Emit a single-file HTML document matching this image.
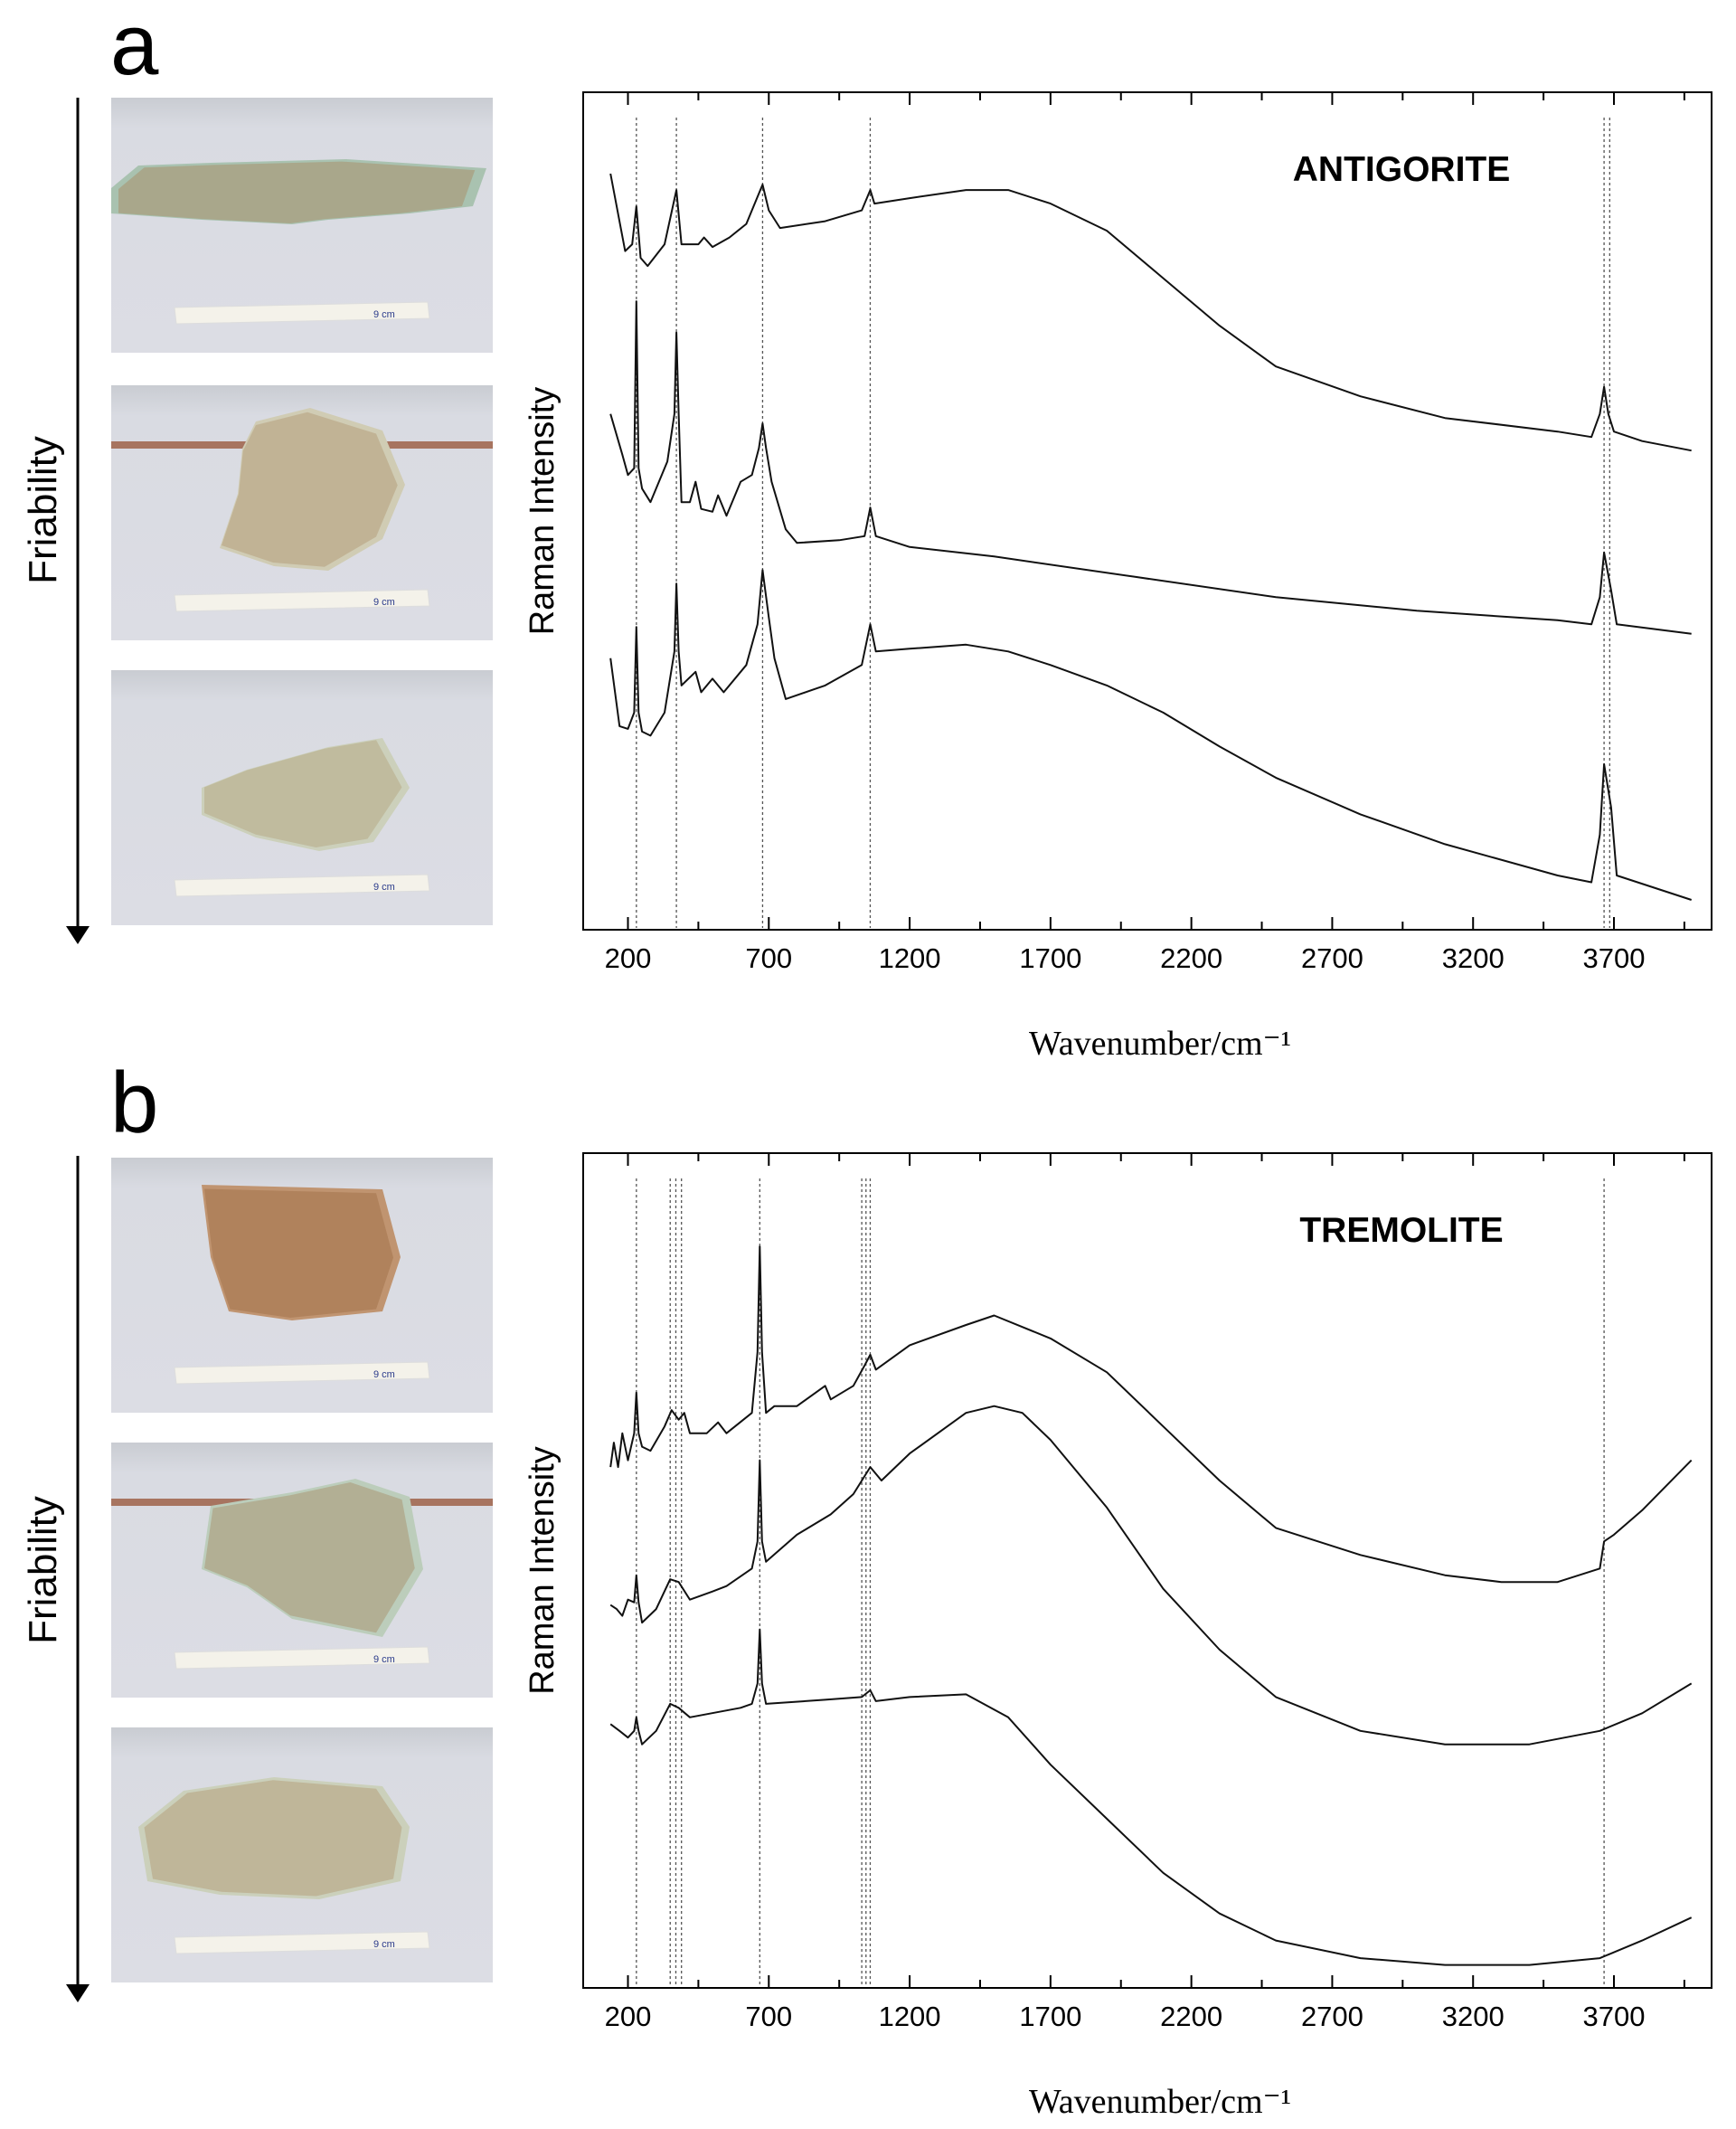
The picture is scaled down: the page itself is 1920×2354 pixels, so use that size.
<!DOCTYPE html>
<html><head><meta charset="utf-8"><style>
html,body{margin:0;padding:0;background:#fff;}
body{width:1920px;height:2354px;position:relative;overflow:hidden;font-family:"Liberation Sans",Arial,sans-serif;}
</style></head><body>
<svg id="fig" width="1920" height="2354" viewBox="0 0 1920 2354" xmlns="http://www.w3.org/2000/svg" style="position:absolute;left:0;top:0">
<defs>
<linearGradient id="bg" x1="0" y1="0" x2="0" y2="1"><stop offset="0" stop-color="#c9ccd2"/><stop offset="0.12" stop-color="#d9dbe2"/><stop offset="1" stop-color="#dcdde4"/></linearGradient>
</defs>
<text x="122" y="82" font-size="96" font-family="Liberation Sans, sans-serif">a</text>
<text x="122" y="1252" font-size="96" font-family="Liberation Sans, sans-serif">b</text>
<g><line x1="86" y1="108" x2="86" y2="1028" stroke="#000" stroke-width="3"/><polygon points="73,1024 99,1024 86,1044" fill="#000"/></g>
<g><line x1="86" y1="1278" x2="86" y2="2198" stroke="#000" stroke-width="3"/><polygon points="73,2194 99,2194 86,2214" fill="#000"/></g>
<text transform="translate(62,564) rotate(-90)" text-anchor="middle" font-size="44">Friability</text>
<text transform="translate(62,1736) rotate(-90)" text-anchor="middle" font-size="44">Friability</text>
<g id="photos"></g>
<g id="chartA"></g>
<g id="chartB"></g>
</svg>
<script>
// ---- chart data (wavenumber / relative intensity) ----
const ticksX = [200,700,1200,1700,2200,2700,3200,3700];
const antTopX = [138,190,215,230,245,270,330,372,390,450,470,500,560,620,660,678,700,740,900,1030,1060,1075,1200,1400,1550,1700,1900,2100,2300,2500,2800,3100,3500,3620,3650,3665,3680,3700,3800,3975];
const antTopY = [557,500,505,533,495,489,505,545,505,505,510,503,510,520,540,549,530,517,522,530,545,535,539,545,545,535,515,480,445,415,393,377,367,363,380,400,380,367,360,353];
const antMidX = [138,180,200,222,230,238,250,280,340,365,372,380,390,420,440,460,500,520,550,600,640,665,678,690,710,760,800,950,1040,1060,1080,1200,1500,2000,2500,3000,3500,3620,3650,3665,3690,3710,3975];
const antMidY = [380,350,335,340,463,340,325,315,345,380,440,380,315,315,330,310,308,320,305,330,335,355,373,355,330,295,285,287,290,311,290,282,275,260,245,235,228,225,245,278,250,225,218];
const antBotX = [138,170,200,222,230,238,250,280,330,365,372,380,390,440,460,500,540,620,660,678,700,720,760,900,1030,1060,1080,1200,1400,1550,1700,1900,2100,2300,2500,2800,3100,3500,3620,3650,3665,3690,3710,3975];
const antBotY = [200,150,148,160,223,160,146,143,160,205,255,205,180,190,175,185,175,195,225,265,230,200,170,180,195,225,205,207,210,205,195,180,160,135,112,85,63,40,35,70,122,90,40,22];
const antLines = [230,372,678,1060,3665,3685];
const tremTopX = [138,150,165,180,200,222,230,238,250,280,330,355,380,400,420,480,520,550,640,660,668,676,690,720,800,900,920,1000,1040,1060,1080,1200,1400,1500,1700,1900,2100,2300,2500,2800,3100,3300,3500,3650,3665,3700,3800,3975];
const tremTopY = [385,403,385,410,390,410,440,410,400,397,415,427,420,425,410,410,418,410,425,470,548,470,425,430,430,445,435,445,460,468,457,475,490,497,480,455,415,375,340,320,305,300,300,310,330,335,353,390];
const tremMidX = [138,160,180,200,222,230,238,250,300,350,380,420,500,550,640,660,668,676,690,800,920,1000,1060,1100,1200,1400,1500,1600,1700,1900,2100,2300,2500,2800,3100,3400,3650,3800,3975];
const tremMidY = [283,280,275,287,285,305,285,270,280,302,300,287,293,297,310,330,390,330,315,335,350,365,385,375,395,425,430,425,405,355,295,250,215,190,180,180,190,203,225];
const tremBotX = [138,170,200,222,230,238,250,300,350,380,420,600,640,660,668,676,690,900,1030,1060,1080,1200,1400,1550,1700,1900,2100,2300,2500,2800,3100,3400,3650,3800,3975];
const tremBotY = [195,190,185,190,200,190,180,190,210,207,200,207,210,225,265,225,210,213,215,220,212,215,217,200,165,125,85,55,35,22,17,17,22,35,52];
const tremLines = [230,350,370,390,668,1030,1045,1060,3665];

const NS = "http://www.w3.org/2000/svg";
function mk(tag, attrs, parent){const e=document.createElementNS(NS,tag);for(const k in attrs)e.setAttribute(k,attrs[k]);if(parent)parent.appendChild(e);return e;}

function drawChart(g, top, bottom, title, seriesList, lines){
  const L=645,R=1893,T=top,B=bottom;
  const xScale = w => 694.5 + (w-200)*(1090.5/3500);
  const yScale = v => B - v*(B-T)/617;
  const frame = mk('rect',{x:L,y:T,width:R-L,height:B-T,fill:'none',stroke:'#000','stroke-width':2},g);
  
  
  for(let w=200; w<=4000; w+=250){
    const x=xScale(w); const len=(w-200)%500===0?14:9;
    mk('line',{x1:x,y1:B,x2:x,y2:B-len,stroke:'#000','stroke-width':2},g);
    mk('line',{x1:x,y1:T,x2:x,y2:T+len,stroke:'#000','stroke-width':2},g);
  }
  ticksX.forEach(t=>{
    const tx=mk('text',{x:xScale(t),y:B+42,'text-anchor':'middle','font-size':31,'font-family':'Liberation Sans, Arial, sans-serif'},g);
    tx.textContent=t;
    
    
  });
  lines.forEach(w=>{
    const ln=mk('line',{x1:xScale(w),y1:T+28,x2:xScale(w),y2:B-2,stroke:'#555','stroke-width':1.3,'stroke-dasharray':'3,3'},g);
    
    
  });
  seriesList.forEach((s,i)=>{
    const pts=s[0].map((w,j)=>xScale(w).toFixed(1)+','+yScale(s[1][j]).toFixed(1)).join(' ');
    const pl=mk('polyline',{points:pts,fill:'none',stroke:'#111','stroke-width':2,'stroke-linejoin':'round'},g);
    
    
  });
  const tt=mk('text',{x:1550,y:T+98,'text-anchor':'middle','font-size':39,'font-weight':'bold','font-family':'Liberation Sans, Arial, sans-serif'},g);
  tt.textContent=title;
  
  
  const yl=mk('text',{transform:`translate(612,${(T+B)/2}) rotate(-90)`,'text-anchor':'middle','font-size':38,'font-family':'Liberation Sans, Arial, sans-serif'},g);
  yl.textContent='Raman Intensity';
  
  
  const xl=mk('text',{x:1283,y:B+138,'text-anchor':'middle','font-size':38,'font-family':'Liberation Serif, serif'},g);
  xl.textContent='Wavenumber/cm\u207B\u00B9';
  
  
}
drawChart(document.getElementById('chartA'),102,1028,'ANTIGORITE',[[antTopX,antTopY],[antMidX,antMidY],[antBotX,antBotY]],antLines);
drawChart(document.getElementById('chartB'),1275,2198,'TREMOLITE',[[tremTopX,tremTopY],[tremMidX,tremMidY],[tremBotX,tremBotY]],tremLines);

// ---- photos ----
const photoG=document.getElementById('photos');
const photoYs=[108,426,741,1280,1595,1910];
const rocks=[
 {pts:'30,75 110,72 260,68 415,78 400,120 330,128 240,135 200,140 100,135 0,128 0,100',fill:'#a9c2b0',rust:'#a86a35',band:null},
 {pts:'160,40 220,25 300,50 325,110 300,170 240,205 180,200 120,180 140,120 145,70',fill:'#d0ccb4',rust:'#a07a4e',band:'#9a5a40'},
 {pts:'100,130 150,110 240,85 300,75 330,130 290,190 230,200 160,185 100,160',fill:'#ccd0bb',rust:'#a68a5c',band:null},
 {pts:'100,30 300,35 320,110 300,170 200,180 130,170 110,110',fill:'#c09470',rust:'#8c5a30',band:null},
 {pts:'110,70 200,55 270,40 330,60 345,140 300,215 200,195 150,160 100,140',fill:'#bccdbb',rust:'#9c6b3d',band:'#9a5a40'},
 {pts:'30,110 80,70 180,55 300,65 330,110 320,170 230,190 120,185 40,170',fill:'#cbd0bb',rust:'#a5794c',band:null}
];
photoYs.forEach((y,i)=>{
  const g=mk('g',{transform:`translate(123,${y})`},photoG);
  
  
  mk('rect',{x:0,y:0,width:422,height:282,fill:'url(#bg)'},g);
  if(rocks[i].band) mk('rect',{x:0,y:62,width:422,height:8,fill:rocks[i].band,opacity:0.8},g);
  mk('polygon',{points:rocks[i].pts,fill:rocks[i].fill},g);
  mk('polygon',{points:rocks[i].pts,fill:rocks[i].rust,opacity:0.3,transform:'translate(8,6) scale(0.95)'},g);
  mk('polygon',{points:'70,232 350,226 352,244 72,250',fill:'#f4f2ea',stroke:'#ddd'},g);
  const t=mk('text',{x:290,y:243,'font-size':11,fill:'#2a3a8a'},g);
  t.textContent='9 cm';
});
</script>
</body></html>
